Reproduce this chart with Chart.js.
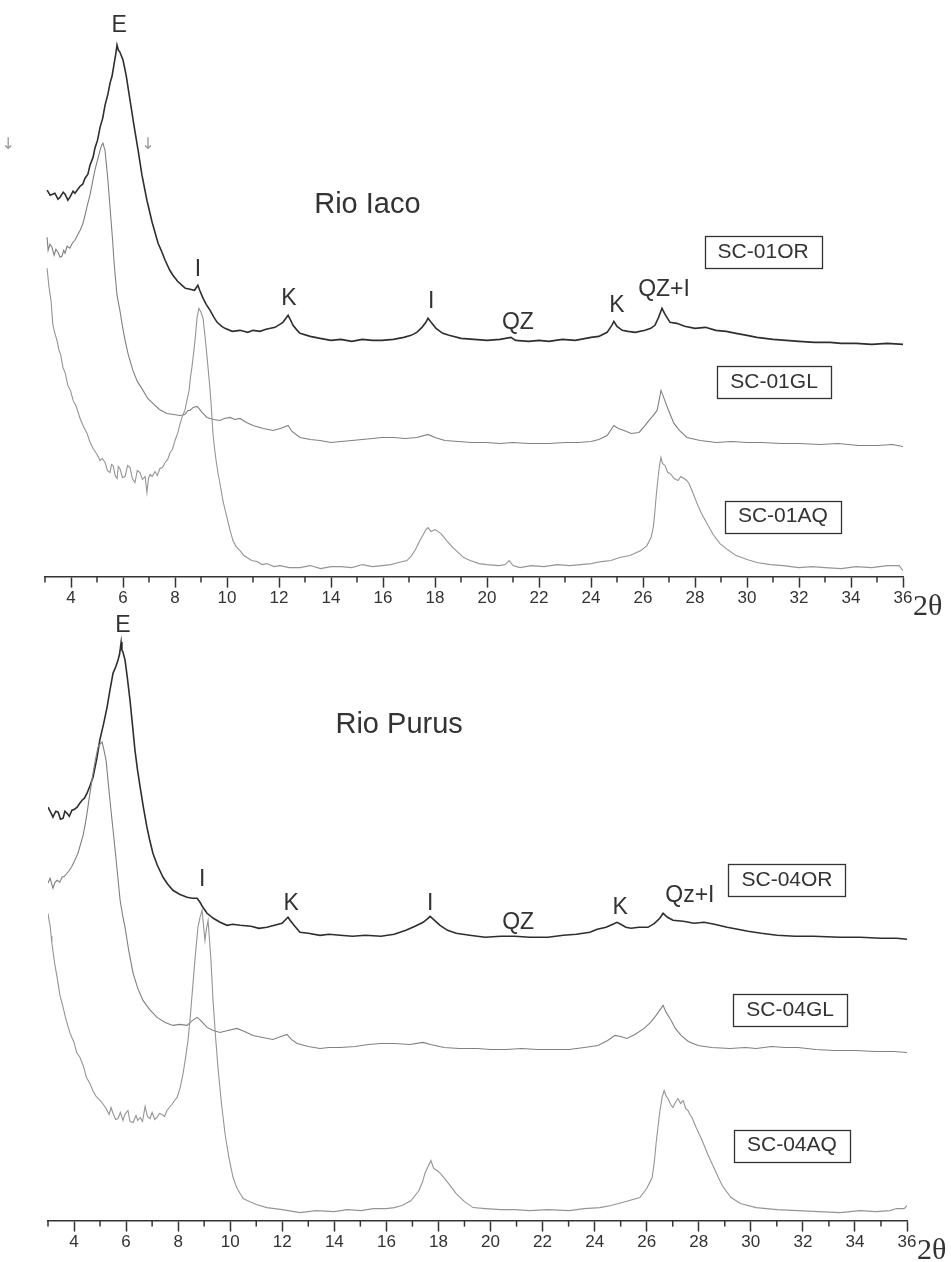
<!DOCTYPE html>
<html>
<head>
<meta charset="utf-8">
<script src="https://cdn.jsdelivr.net/npm/chart.js@4.4.1/dist/chart.umd.min.js"></script>
<style>
  body { margin: 0; background: #fff; width: 951px; height: 1262px; position: relative; overflow: hidden; }
  canvas { position: absolute; left: 0; }
  #iaco { top: 0; }
  #purus { top: 600px; }
</style>
</head>
<body>
<canvas id="iaco" width="951" height="640"></canvas>
<canvas id="purus" width="951" height="662"></canvas>
<script>
// 2theta tick labels (even) and the short ticks in between
var majorTicks = [4, 6, 8, 10, 12, 14, 16, 18, 20, 22, 24, 26, 28, 30, 32, 34, 36];
var minorTicks = [3, 5, 7, 9, 11, 13, 15, 17, 19, 21, 23, 25, 27, 29, 31, 33, 35];

// ---- Rio Iaco, [2theta, intensity] ----
var iacoOR = [[3.08,386],[3.2,381],[3.38,383],[3.5,377],[3.58,379],[3.7,384],[3.77,382],[3.88,376],[3.96,379],[4.08,385],[4.15,383],[4.35,390],[4.45,392],[4.54,398],[4.65,402],[4.73,411],[4.85,419],[4.92,428],[5.02,436],[5.12,449],[5.22,458],[5.31,471],[5.42,482],[5.5,493],[5.58,500],[5.65,511],[5.72,522],[5.77,531],[5.82,526],[5.88,524],[6.0,516],[6.12,501],[6.27,476],[6.42,451],[6.58,426],[6.73,401],[6.92,376],[7.12,354],[7.35,333],[7.5,324],[7.62,316],[7.8,306],[7.92,301],[8.1,295],[8.27,291],[8.4,288],[8.58,287],[8.75,286],[8.88,291],[8.95,286],[9.08,278],[9.2,272],[9.35,266],[9.5,259],[9.62,254],[9.8,250],[9.92,248],[10.2,245],[10.5,246],[10.8,244],[11.0,246],[11.27,245],[11.5,247],[11.85,249],[12.15,254],[12.35,261],[12.45,256],[12.54,251],[12.7,246],[12.81,243],[13.2,240],[13.58,238],[14.0,236],[14.38,237],[14.8,235],[15.2,237],[15.6,236],[15.96,236],[16.4,237],[16.8,239],[17.08,241],[17.3,244],[17.5,249],[17.65,254],[17.73,258],[17.85,254],[18.04,248],[18.3,243],[18.54,241],[19.0,238],[19.5,237],[20.0,236],[20.5,237],[20.92,239],[21.1,236],[21.6,235],[22.0,236],[22.38,235],[22.9,237],[23.4,236],[24.0,239],[24.3,240],[24.62,244],[24.8,251],[24.88,255],[25.0,250],[25.2,246],[25.42,245],[25.7,244],[26.08,246],[26.3,248],[26.46,251],[26.6,259],[26.73,268],[26.85,262],[27.04,254],[27.3,253],[27.6,250],[28.0,248],[28.4,249],[28.8,246],[29.2,245],[29.58,243],[30.0,241],[30.38,239],[31.0,237],[31.5,236],[32.0,235],[32.6,234],[33.2,234],[33.62,233],[34.2,233],[34.8,232],[35.4,233],[36.0,232]];
var iacoGL = [[3.08,339],[3.12,326],[3.19,332],[3.27,329],[3.35,321],[3.42,327],[3.5,324],[3.58,319],[3.65,320],[3.72,326],[3.77,323],[3.85,330],[3.96,328],[4.05,333],[4.15,336],[4.25,341],[4.35,346],[4.45,352],[4.54,361],[4.63,371],[4.73,381],[4.82,393],[4.92,406],[5.02,416],[5.12,426],[5.18,431],[5.23,433],[5.27,429],[5.31,426],[5.36,412],[5.42,396],[5.48,376],[5.54,356],[5.6,336],[5.65,316],[5.71,298],[5.77,281],[5.88,266],[5.98,250],[6.08,236],[6.2,222],[6.38,206],[6.55,195],[6.77,186],[6.95,178],[7.15,173],[7.4,167],[7.69,163],[7.95,162],[8.19,161],[8.38,162],[8.5,166],[8.58,166],[8.7,169],[8.85,170],[8.95,167],[9.04,164],[9.23,159],[9.5,157],[9.73,156],[9.9,158],[10.12,159],[10.3,157],[10.5,158],[10.75,154],[11.0,151],[11.4,148],[11.77,146],[12.05,148],[12.35,151],[12.5,145],[12.81,139],[13.2,137],[13.58,136],[14.0,134],[14.38,135],[14.8,136],[15.2,137],[15.6,138],[15.96,139],[16.4,139],[16.85,138],[17.3,139],[17.73,142],[18.0,139],[18.38,136],[18.9,135],[19.4,134],[19.96,134],[20.5,133],[21.0,134],[21.6,133],[22.38,133],[23.0,134],[23.5,134],[24.0,135],[24.3,137],[24.62,141],[24.88,151],[25.05,148],[25.27,146],[25.55,143],[25.85,144],[26.05,150],[26.23,156],[26.4,161],[26.54,166],[26.62,176],[26.69,186],[26.78,180],[26.88,173],[27.0,165],[27.19,153],[27.4,146],[27.69,139],[28.2,136],[28.81,134],[29.4,135],[30.0,134],[30.6,134],[31.3,133],[32.0,133],[32.8,132],[33.5,133],[34.3,131],[35.0,131],[35.6,132],[36.0,130]];
var iacoAQ = [[3.08,308],[3.15,290],[3.23,276],[3.3,252],[3.38,243],[3.46,236],[3.54,226],[3.6,222],[3.69,209],[3.78,203],[3.88,191],[3.98,186],[4.08,176],[4.2,170],[4.35,158],[4.48,150],[4.62,143],[4.72,135],[4.85,128],[5.0,122],[5.12,116],[5.2,118],[5.31,114],[5.4,106],[5.5,104],[5.56,112],[5.62,111],[5.7,101],[5.77,98],[5.82,110],[5.88,108],[5.98,99],[6.08,100],[6.18,111],[6.27,109],[6.36,98],[6.46,94],[6.55,106],[6.65,104],[6.75,97],[6.85,100],[6.92,84],[6.98,98],[7.04,102],[7.12,100],[7.23,105],[7.32,101],[7.42,108],[7.52,109],[7.62,114],[7.72,117],[7.81,124],[7.9,127],[8.0,136],[8.1,143],[8.19,152],[8.28,160],[8.38,166],[8.46,176],[8.54,186],[8.6,200],[8.65,209],[8.71,222],[8.77,236],[8.81,248],[8.85,259],[8.92,268],[9.0,264],[9.08,258],[9.13,246],[9.19,231],[9.27,209],[9.33,192],[9.38,176],[9.46,143],[9.52,128],[9.58,116],[9.65,104],[9.73,93],[9.85,75],[10.0,59],[10.12,46],[10.23,36],[10.35,30],[10.5,26],[10.65,21],[10.77,19],[10.95,16],[11.15,15],[11.35,12],[11.54,13],[11.8,10],[12.04,11],[12.4,9],[12.81,9],[13.2,11],[13.6,8],[14.0,10],[14.38,10],[14.8,9],[15.2,12],[15.6,10],[15.96,11],[16.3,12],[16.6,14],[16.92,16],[17.1,21],[17.25,27],[17.42,36],[17.55,42],[17.65,47],[17.73,49],[17.85,45],[18.0,47],[18.23,43],[18.45,36],[18.69,29],[18.9,24],[19.1,19],[19.35,16],[19.7,13],[20.0,12],[20.46,11],[20.7,12],[20.85,16],[21.0,11],[21.27,9],[21.7,11],[22.2,10],[22.7,12],[23.19,11],[23.6,12],[24.0,13],[24.4,15],[24.77,16],[25.1,19],[25.5,21],[25.92,26],[26.15,31],[26.31,39],[26.4,50],[26.46,66],[26.52,84],[26.58,99],[26.63,110],[26.69,119],[26.75,113],[26.85,111],[26.95,104],[27.04,103],[27.2,98],[27.35,96],[27.45,100],[27.58,98],[27.68,96],[27.77,93],[27.9,85],[28.08,73],[28.25,63],[28.46,53],[28.7,42],[28.96,33],[29.25,27],[29.58,21],[30.0,17],[30.38,14],[30.9,12],[31.4,11],[32.0,9],[32.5,10],[33.0,9],[33.62,8],[34.2,10],[34.8,9],[35.4,11],[35.85,11],[36.0,6]];

// ---- Rio Purus, [2theta, intensity] ----
var purusOR = [[3.0,413],[3.1,408],[3.19,403],[3.3,409],[3.39,408],[3.48,401],[3.58,402],[3.65,409],[3.73,407],[3.82,404],[3.92,410],[4.02,411],[4.12,413],[4.22,417],[4.31,420],[4.4,422],[4.5,427],[4.62,435],[4.73,443],[4.8,452],[4.88,462],[4.99,480],[5.07,489],[5.15,498],[5.27,513],[5.38,530],[5.5,547],[5.6,553],[5.69,560],[5.75,566],[5.81,578],[5.84,570],[5.88,568],[5.96,560],[6.05,542],[6.15,520],[6.25,494],[6.34,470],[6.44,450],[6.54,433],[6.67,412],[6.8,393],[6.9,381],[7.03,367],[7.2,355],[7.42,343],[7.6,336],[7.8,330],[8.05,326],[8.34,323],[8.55,322],[8.73,322],[8.84,318],[8.95,313],[9.11,307],[9.35,302],[9.61,298],[9.88,295],[10.1,296],[10.38,295],[10.8,294],[11.1,292],[11.41,293],[11.7,295],[11.99,297],[12.22,303],[12.3,300],[12.45,295],[12.68,288],[13.0,287],[13.45,285],[13.8,286],[14.22,285],[14.7,284],[15.2,285],[15.79,284],[16.3,286],[16.75,290],[17.1,294],[17.41,298],[17.6,302],[17.68,304],[17.85,300],[18.06,295],[18.35,290],[18.68,287],[19.2,285],[19.79,283],[20.4,284],[20.94,284],[21.5,283],[22.21,283],[22.8,285],[23.3,286],[23.82,288],[24.1,291],[24.44,293],[24.7,296],[24.86,298],[25.0,296],[25.2,293],[25.4,292],[25.7,293],[26.05,293],[26.3,297],[26.5,302],[26.63,307],[26.8,303],[27.01,300],[27.4,299],[27.82,297],[28.2,298],[28.6,296],[29.09,293],[29.5,291],[29.89,289],[30.4,287],[31.01,285],[31.7,284],[32.4,284],[33.43,283],[34.2,283],[35.0,282],[35.6,282],[36.0,281]];
var purusGL = [[3.0,337],[3.08,342],[3.19,332],[3.27,338],[3.35,340],[3.45,338],[3.54,343],[3.63,344],[3.73,347],[3.82,350],[3.92,354],[4.03,360],[4.15,367],[4.25,376],[4.35,385],[4.43,396],[4.5,407],[4.6,425],[4.73,447],[4.82,460],[4.92,473],[5.0,476],[5.08,478],[5.15,470],[5.23,460],[5.3,441],[5.38,420],[5.48,395],[5.58,370],[5.68,344],[5.77,320],[5.86,306],[5.96,293],[6.1,270],[6.27,247],[6.45,232],[6.65,220],[6.9,211],[7.19,203],[7.5,198],[7.8,195],[8.05,196],[8.34,195],[8.55,200],[8.73,203],[8.9,199],[9.11,193],[9.35,190],[9.61,188],[9.9,190],[10.26,192],[10.55,189],[10.88,185],[11.25,183],[11.64,181],[11.95,184],[12.18,186],[12.35,181],[12.57,177],[13.0,174],[13.45,172],[13.8,173],[14.22,173],[14.8,174],[15.3,176],[15.79,177],[16.3,177],[16.9,176],[17.41,178],[17.7,176],[18.21,173],[18.8,172],[19.5,172],[20.0,171],[20.6,171],[21.2,172],[21.8,171],[22.4,171],[23.02,171],[23.6,173],[24.13,175],[24.5,180],[24.78,185],[25.0,184],[25.24,182],[25.55,186],[25.9,192],[26.15,198],[26.36,205],[26.55,212],[26.63,215],[26.75,208],[26.94,200],[27.1,192],[27.32,185],[27.6,179],[27.97,175],[28.5,173],[29.2,172],[29.8,173],[30.2,172],[30.8,174],[31.3,173],[31.81,173],[32.5,171],[33.2,170],[34.0,170],[34.8,169],[35.5,169],[36.0,168]];
var purusAQ = [[3.0,307],[3.04,300],[3.08,295],[3.12,284],[3.15,277],[3.25,258],[3.35,243],[3.46,225],[3.58,213],[3.7,200],[3.85,187],[4.0,178],[4.1,168],[4.23,163],[4.35,155],[4.48,143],[4.61,137],[4.72,130],[4.85,124],[5.0,120],[5.1,117],[5.23,112],[5.35,106],[5.42,113],[5.5,107],[5.6,101],[5.69,102],[5.78,108],[5.88,100],[5.95,106],[6.07,110],[6.15,99],[6.27,98],[6.38,105],[6.45,100],[6.54,103],[6.63,99],[6.73,114],[6.82,104],[6.92,102],[7.0,108],[7.1,101],[7.19,103],[7.28,107],[7.38,106],[7.48,104],[7.57,110],[7.66,113],[7.76,116],[7.86,120],[7.96,123],[8.08,133],[8.19,147],[8.28,162],[8.38,180],[8.47,205],[8.57,237],[8.66,265],[8.76,293],[8.84,303],[8.92,310],[8.97,296],[9.03,280],[9.09,292],[9.15,300],[9.2,282],[9.26,260],[9.34,220],[9.43,186],[9.53,153],[9.66,118],[9.8,87],[9.95,63],[10.11,43],[10.25,33],[10.38,27],[10.5,22],[10.65,20],[11.0,16],[11.41,13],[12.0,11],[12.68,8],[13.3,10],[14.0,9],[14.5,11],[15.03,10],[15.5,12],[16.0,12],[16.3,13],[16.6,15],[16.95,20],[17.25,30],[17.38,38],[17.48,47],[17.6,54],[17.71,60],[17.82,52],[17.95,50],[18.08,47],[18.21,43],[18.45,35],[18.68,27],[19.0,19],[19.33,13],[19.8,12],[20.4,11],[20.94,11],[21.5,10],[22.2,11],[23.02,10],[23.6,12],[24.2,13],[24.63,15],[25.2,19],[25.74,23],[26.0,32],[26.21,43],[26.3,60],[26.36,77],[26.44,95],[26.51,110],[26.6,124],[26.67,130],[26.75,124],[26.82,122],[26.92,116],[27.01,113],[27.1,118],[27.2,122],[27.3,117],[27.4,120],[27.5,112],[27.59,110],[27.66,106],[27.74,103],[27.9,93],[28.13,80],[28.35,66],[28.63,50],[28.9,35],[29.24,23],[29.6,17],[30.2,13],[31.0,11],[31.8,10],[32.6,9],[33.43,8],[34.2,10],[34.8,9],[35.35,10],[35.6,12],[35.89,12],[36.0,15]];

// labels, placed in data units (2theta, intensity)
var iacoNotes = [
  { text: 'E', x: 5.85, y: 550, kind: 'peak' },
  { text: 'Rio Iaco', x: 15.4, y: 371, kind: 'title' },
  { text: 'I', x: 8.88, y: 307, kind: 'peak' },
  { text: 'K', x: 12.38, y: 278, kind: 'peak' },
  { text: 'I', x: 17.85, y: 275, kind: 'peak' },
  { text: 'QZ', x: 21.19, y: 254, kind: 'peak' },
  { text: 'K', x: 25.0, y: 271, kind: 'peak' },
  { text: 'QZ+I', x: 26.81, y: 287, kind: 'peak' },
  { text: 'SC-01OR', x: 30.62, y: 324, kind: 'box' },
  { text: 'SC-01GL', x: 31.04, y: 194, kind: 'box' },
  { text: 'SC-01AQ', x: 31.38, y: 60, kind: 'box' },
  { text: '\u2193', x: 1.58, y: 431, kind: 'mark' },
  { text: '\u2193', x: 6.96, y: 431, kind: 'mark' }
];
var purusNotes = [
  { text: 'E', x: 5.88, y: 594, kind: 'peak' },
  { text: 'Rio Purus', x: 16.49, y: 495, kind: 'title' },
  { text: 'I', x: 8.92, y: 341, kind: 'peak' },
  { text: 'K', x: 12.34, y: 317, kind: 'peak' },
  { text: 'I', x: 17.68, y: 317, kind: 'peak' },
  { text: 'QZ', x: 21.06, y: 298, kind: 'peak' },
  { text: 'K', x: 24.98, y: 313, kind: 'peak' },
  { text: 'Qz+I', x: 27.66, y: 325, kind: 'peak' },
  { text: 'SC-04OR', x: 31.39, y: 340, kind: 'box' },
  { text: 'SC-04GL', x: 31.51, y: 210, kind: 'box' },
  { text: 'SC-04AQ', x: 31.58, y: 75, kind: 'box' }
];

var ink = '#333333';
var sans = '"Liberation Sans", Arial, sans-serif';

var notesPlugin = {
  id: 'notes',
  afterDraw: function(chart, args, opts) {
    var ctx = chart.ctx, xs = chart.scales.x, ys = chart.scales.y, area = chart.chartArea;
    ctx.save();
    // short ticks at odd values
    ctx.strokeStyle = ink;
    ctx.lineWidth = 1.5;
    minorTicks.forEach(function(v) {
      var px = xs.getPixelForValue(v);
      ctx.beginPath();
      ctx.moveTo(px, area.bottom);
      ctx.lineTo(px, area.bottom + 6);
      ctx.stroke();
    });
    ctx.fillStyle = ink;
    ctx.textBaseline = 'middle';
    ctx.textAlign = 'left';
    ctx.font = '30px "Liberation Serif", "Times New Roman", serif';
    ctx.fillText('2\u03b8', area.right + 10, area.bottom + 31);

    ctx.textAlign = 'center';
    (opts.items || []).forEach(function(n) {
      var px = xs.getPixelForValue(n.x), py = ys.getPixelForValue(n.y);
      if (n.kind == 'title') {
        ctx.font = '29px ' + sans;
        ctx.fillStyle = ink;
      } else if (n.kind == 'box') {
        ctx.font = '21px ' + sans;
        ctx.fillStyle = ink;
        var w = ctx.measureText(n.text).width + 26;
        ctx.lineWidth = 1.3;
        ctx.strokeRect(Math.round(px - w / 2) + 0.5, Math.round(py - 16) + 0.5, Math.round(w), 32);
      } else if (n.kind == 'mark') {
        ctx.font = '16px "DejaVu Sans", sans-serif';
        ctx.fillStyle = '#999';
      } else {
        ctx.font = '23px ' + sans;
        ctx.fillStyle = ink;
      }
      ctx.fillText(n.text, px, py);
    });
    ctx.restore();
  }
};

function trace(data, color, width) {
  return {
    data: data.map(function(p) { return { x: p[0], y: p[1] }; }),
    borderColor: color,
    borderWidth: width,
    pointRadius: 0,
    showLine: true,
    fill: false,
    tension: 0
  };
}

function makeChart(id, series, notes, yMax, pad) {
  var ctx = document.getElementById(id).getContext('2d');
  return new Chart(ctx, {
    type: 'scatter',
    data: {
      datasets: [
        trace(series[2], '#959595', 1.1),
        trace(series[1], '#808080', 1.1),
        trace(series[0], '#2e2e2e', 1.6)
      ]
    },
    options: {
      responsive: false,
      animation: false,
      events: [],
      layout: { padding: pad },
      plugins: {
        legend: { display: false },
        tooltip: { enabled: false },
        notes: { items: notes }
      },
      scales: {
        x: {
          type: 'linear',
          min: 3,
          max: 36,
          afterBuildTicks: function(scale) {
            scale.ticks = majorTicks.map(function(v) { return { value: v }; });
          },
          ticks: {
            color: ink,
            font: { family: sans, size: 17 },
            padding: 1,
            maxRotation: 0,
            autoSkip: false
          },
          grid: { drawOnChartArea: false, tickLength: 11, tickColor: ink, tickWidth: 1.5 },
          border: { display: true, color: ink, width: 1.5 }
        },
        y: { display: false, min: 0, max: yMax }
      }
    },
    plugins: [notesPlugin]
  });
}

makeChart('iaco', [iacoOR, iacoGL, iacoAQ], iacoNotes, 576, { left: 45, right: 48, top: 0, bottom: 30 });
makeChart('purus', [purusOR, purusGL, purusAQ], purusNotes, 610, { left: 48, right: 44, top: 10, bottom: 8 });
</script>
</body>
</html>
